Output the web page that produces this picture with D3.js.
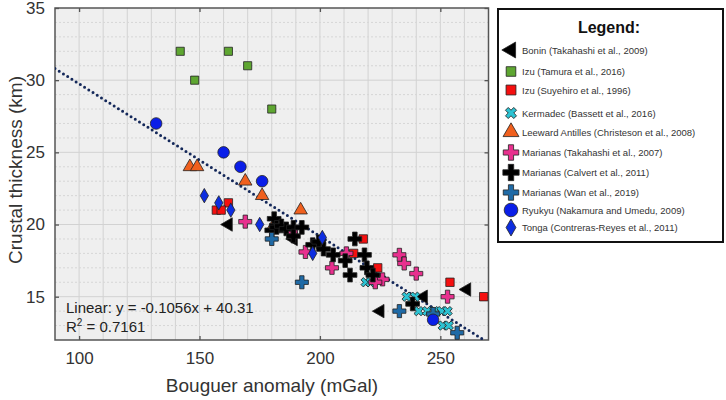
<!DOCTYPE html>
<html lang="en">
<head>
<meta charset="UTF-8">
<title>Crustal thickness vs Bouguer anomaly</title>
<style>
  body { margin: 0; background: #fff; }
  svg text { font-family: "Liberation Sans", Arial, sans-serif; }
</style>
</head>
<body>
<svg width="726" height="400" id="svg"></svg>
<script src="https://d3js.org/d3.v7.min.js"></script>
<script>
// [Bouguer anomaly (mGal), crustal thickness (km)]
const bonin = [[162, 20], [189, 19], [225, 14], [243, 15], [261, 15.5]]
const izuTamura = [[142, 32], [162, 32], [148, 30], [170, 31], [180, 28]]
const izuSuyehiro = [[162, 21.5], [157, 21], [159, 21], [218, 19], [214, 18], [224, 17], [254, 16], [268, 15]]
const kermadec = [[219, 16], [221, 16], [236, 15], [239.5, 15], [241, 14], [244.5, 14], [247.5, 14], [250.5, 14], [253, 14], [251, 13], [253.5, 13]]
const leeward = [[146, 24], [149, 24], [169, 23], [176, 22], [192, 21], [181, 20]]
const marTakahashi = [[169, 20.2], [188, 19.5], [194, 18.1], [205, 17], [211, 18], [233, 17.9], [235, 17.3], [240, 16.6], [226, 16.2], [223, 16], [253, 15]]
const marCalvert = [[181, 20.4], [180, 19.6], [182, 19.8], [184, 19.9], [186, 19.7], [189, 19.8], [189, 19.2], [192.5, 19.8],
  [197, 18.6], [199.5, 18.8], [201.5, 18.3], [205.5, 17.9], [210.5, 17.5], [212.5, 16.5], [214.5, 19], [218.5, 17.9],
  [219.5, 17], [222, 16.5], [238.5, 14.5]]
const marWan = [[180, 19], [192.5, 16], [233, 14], [247, 13.8], [257, 12.5]]
const ryukyu = [[132, 27], [160, 25], [167, 24], [176, 23], [247, 13.4]]
const tonga = [[152, 22], [158, 21.5], [163, 21], [175, 20], [201, 19.1], [197, 18]]

const xTicks = [100, 150, 200, 250]
const yTicks = [15, 20, 25, 30, 35]
const fit = { slope: -0.1056, intercept: 40.31, r2: "0.7161" }

const series = [
  { name: "Bonin (Takahashi et al., 2009)", data: bonin, shape: d3.symbolTriangle, size: 78, rot: -90, fill: "#000" },
  { name: "Izu (Tamura et al., 2016)", data: izuTamura, shape: d3.symbolSquare, size: 66, rot: 0, fill: "#5ea631" },
  { name: "Izu (Suyehiro et al., 1996)", data: izuSuyehiro, shape: d3.symbolSquare, size: 70, rot: 0, fill: "#f50f0f" },
  { name: "Kermadec (Bassett et al., 2016)", data: kermadec, shape: d3.symbolCross, size: 55, rot: 45, fill: "#2cc3d3" },
  { name: "Leeward Antilles (Christeson et al., 2008)", data: leeward, shape: d3.symbolTriangle, size: 78, rot: 0, fill: "#f0601e" },
  { name: "Marianas (Takahashi et al., 2007)", data: marTakahashi, shape: d3.symbolCross, size: 95, rot: 0, fill: "#e8308e" },
  { name: "Marianas (Calvert et al., 2011)", data: marCalvert, shape: d3.symbolCross, size: 105, rot: 0, fill: "#000" },
  { name: "Marianas (Wan et al., 2019)", data: marWan, shape: d3.symbolCross, size: 95, rot: 0, fill: "#1f6aa6" },
  { name: "Ryukyu (Nakamura and Umedu, 2009)", data: ryukyu, shape: d3.symbolCircle, size: 105, rot: 0, fill: "#0a1ee8" },
  { name: "Tonga (Contreras-Reyes et al., 2011)", data: tonga, shape: d3.symbolDiamond, size: 60, rot: 0, fill: "#0d2de0" }
]

const svg = d3.select("svg#svg")
const margin = { top: 8, left: 55 }
const innerWidth = 488.5 - margin.left
const innerHeight = 340 - margin.top

const xScale = d3.scaleLinear().domain([90, 270]).range([0, innerWidth])
const yScale = d3.scaleLinear().domain([12, 35]).range([innerHeight, 0])

const g = svg.append("g").attr("transform", `translate(${margin.left},${margin.top})`)

g.append("rect").attr("width", innerWidth).attr("height", innerHeight).attr("fill", "#efefef")

// grid
g.append("g").selectAll("line").data(d3.range(100, 270, 10)).join("line")
  .attr("x1", d => xScale(d)).attr("x2", d => xScale(d))
  .attr("y1", 0).attr("y2", innerHeight)
  .attr("stroke", "#d2d2d2").attr("stroke-width", 1)
g.append("g").selectAll("line").data(d3.range(13, 35, 1)).join("line")
  .attr("x1", 0).attr("x2", innerWidth)
  .attr("y1", d => yScale(d)).attr("y2", d => yScale(d))
  .attr("stroke", d => d % 5 === 0 ? "#d2d2d2" : "#d6d6d6")
  .attr("stroke-dasharray", d => d % 5 === 0 ? null : "2,2")
  .attr("stroke-width", 1)

// axes
const xAxis = d3.axisBottom(xScale).tickValues(xTicks).tickSize(-4).tickPadding(12)
const yAxis = d3.axisLeft(yScale).tickValues(yTicks).tickSize(-4).tickPadding(10)
const xTop = d3.axisTop(xScale).tickValues(xTicks).tickSize(-4).tickFormat("")
const yRight = d3.axisRight(yScale).tickValues(yTicks).tickSize(-4).tickFormat("")

g.append("g").attr("class", "xAxis").attr("transform", `translate(0,${innerHeight})`).call(xAxis)
g.append("g").attr("class", "yAxis").call(yAxis)
g.append("g").call(xTop)
g.append("g").attr("transform", `translate(${innerWidth},0)`).call(yRight)
g.selectAll(".domain").remove()
g.selectAll(".tick line").attr("stroke", "#555").attr("stroke-width", 1.3)
g.selectAll(".tick text").attr("font-size", 17).attr("fill", "#333")

g.append("rect").attr("width", innerWidth).attr("height", innerHeight)
  .attr("fill", "none").attr("stroke", "#555").attr("stroke-width", 1.5)

// clip for marks
svg.append("clipPath").attr("id", "plot").append("rect")
  .attr("width", innerWidth).attr("height", innerHeight)
const marks = g.append("g").attr("clip-path", "url(#plot)")

// regression line
const fx = [90, (12 - fit.intercept) / fit.slope]
marks.append("line")
  .attr("x1", xScale(fx[0])).attr("y1", yScale(fit.slope * fx[0] + fit.intercept))
  .attr("x2", xScale(fx[1])).attr("y2", yScale(fit.slope * fx[1] + fit.intercept))
  .attr("stroke", "#14285a").attr("stroke-width", 3)
  .attr("stroke-linecap", "round").attr("stroke-dasharray", "0,5")

// points
series.forEach(s => {
  const sym = d3.symbol().type(s.shape).size(s.size)
  marks.append("g").selectAll("path").data(s.data).join("path")
    .attr("d", sym)
    .attr("transform", d => `translate(${xScale(d[0])},${yScale(d[1])}) rotate(${s.rot})`)
    .attr("fill", s.fill).attr("stroke", "#222").attr("stroke-width", 0.8)
})

// fit text
g.append("text").attr("x", 11).attr("y", 305)
  .attr("font-size", 15).attr("fill", "#222").text(`Linear: y = ${fit.slope}x + ${fit.intercept}`)
const r2 = g.append("text").attr("x", 11).attr("y", 324).attr("font-size", 15).attr("fill", "#222")
r2.append("tspan").text("R")
r2.append("tspan").attr("font-size", 10).attr("dy", -6).text("2")
r2.append("tspan").attr("dy", 6).text(` = ${fit.r2}`)

// axis titles
svg.append("text").attr("x", 272).attr("y", 392).attr("text-anchor", "middle")
  .attr("font-size", 19).attr("fill", "#333").text("Bouguer anomaly (mGal)")
svg.append("text").attr("transform", "translate(22,170) rotate(-90)").attr("text-anchor", "middle")
  .attr("font-size", 19).attr("fill", "#333").text("Crustal thickness (km)")

// legend
const lg = svg.append("g")
lg.append("rect").attr("x", 498).attr("y", 9).attr("width", 225).attr("height", 233)
  .attr("fill", "#fff").attr("stroke", "#111").attr("stroke-width", 2)
lg.append("text").attr("x", 609).attr("y", 33).attr("text-anchor", "middle")
  .attr("font-size", 16).attr("font-weight", "bold").attr("fill", "#111").text("Legend:")
const legendY = [50, 71.5, 90, 113, 132, 152.5, 172.5, 192.5, 210, 227.5]
series.forEach((s, i) => {
  const sym = d3.symbol().type(s.shape).size(s.size * 1.4)
  lg.append("path").attr("d", sym)
    .attr("transform", `translate(511,${legendY[i]}) rotate(${s.rot})`)
    .attr("fill", s.fill).attr("stroke", "#222").attr("stroke-width", 0.8)
  lg.append("text").attr("x", 522).attr("y", legendY[i] + 3.5)
    .attr("font-size", 9.5).attr("fill", "#333").text(s.name)
})
</script>
</body>
</html>
